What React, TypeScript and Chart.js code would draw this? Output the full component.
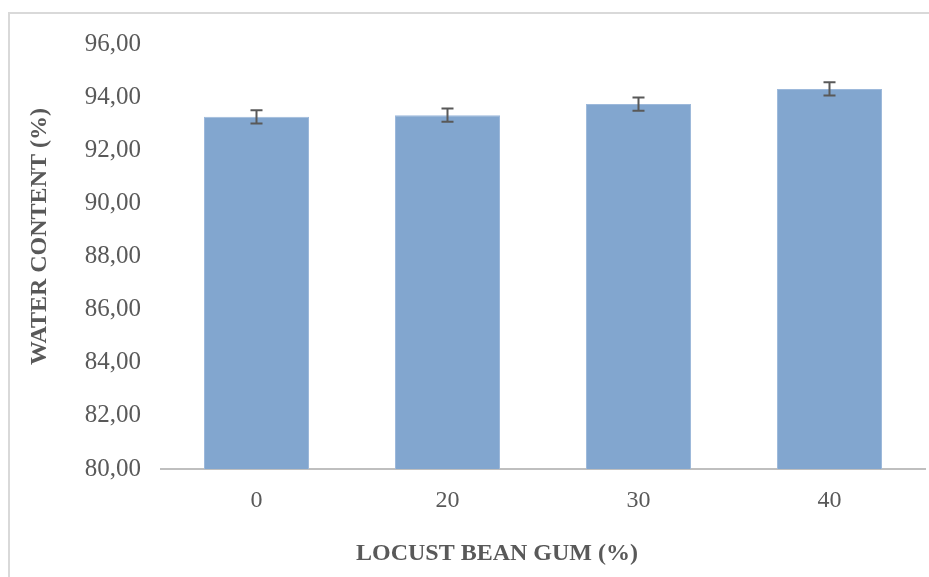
import React, { useEffect, useRef } from "react";
import { Chart, registerables } from "chart.js";

Chart.register(...registerables);

const categories = ["0", "20", "30", "40"];
const waterContent = [93.26, 93.32, 93.74, 94.31];
const errors = [0.25, 0.25, 0.25, 0.25];
const yMin = 80;
const yMax = 96;
const yStep = 2;
const xTitle = "LOCUST BEAN GUM (%)";
const yTitle = "WATER CONTENT (%)";

const TEXT = "#595959";
const FONT = "'Liberation Serif', 'Times New Roman', serif";

const errorBarPlugin = {
  id: "errorBars",
  afterDatasetsDraw(chart: any) {
    const ctx = chart.ctx;
    const meta = chart.getDatasetMeta(0);
    const yScale = chart.scales.y;
    ctx.save();
    ctx.strokeStyle = TEXT;
    ctx.lineWidth = 2;
    meta.data.forEach((el: any, i: number) => {
      const v = waterContent[i];
      const e = errors[i];
      const yTop = yScale.getPixelForValue(v + e);
      const yBot = yScale.getPixelForValue(v - e);
      const x = el.x;
      const cap = 6;
      ctx.beginPath();
      ctx.moveTo(x, yTop);
      ctx.lineTo(x, yBot);
      ctx.moveTo(x - cap, yTop);
      ctx.lineTo(x + cap, yTop);
      ctx.moveTo(x - cap, yBot);
      ctx.lineTo(x + cap, yBot);
      ctx.stroke();
    });
    ctx.restore();
  },
};

const titlesPlugin = {
  id: "axisTitles",
  afterDraw(chart: any) {
    const ctx = chart.ctx;
    const area = chart.chartArea;
    ctx.save();
    ctx.fillStyle = TEXT;
    ctx.font = `bold 24px ${FONT}`;
    ctx.textAlign = "center";
    ctx.textBaseline = "middle";
    ctx.fillText(xTitle, 497, 554);
    ctx.translate(40, (area.top + area.bottom) / 2 - 20);
    ctx.rotate(-Math.PI / 2);
    ctx.fillText(yTitle, 0, 0);
    ctx.restore();
  },
};

export default function App() {
  const ref = useRef<HTMLCanvasElement>(null);

  useEffect(() => {
    if (!ref.current) return;
    const chart = new Chart(ref.current, {
      type: "bar",
      data: {
        labels: categories,
        datasets: [
          {
            data: waterContent,
            backgroundColor: "#82a6cf",
            borderColor: "#9db9db",
            borderWidth: 1,
            categoryPercentage: 1,
            barPercentage: 0.55,
          },
        ],
      },
      options: {
        responsive: false,
        animation: false,
        layout: { padding: { top: 44, right: 4, left: 0, bottom: 0 } },
        plugins: {
          legend: { display: false },
          tooltip: { enabled: false },
          title: { display: false },
        },
        scales: {
          x: {
            grid: { display: false, drawTicks: false },
            border: { display: true, color: "#bfbfbf", width: 2 },
            ticks: {
              color: TEXT,
              font: { family: FONT, size: 24 },
              padding: 17,
            },
            afterFit(scale: any) {
              scale.height = 108;
            },
          },
          y: {
            min: yMin,
            max: yMax,
            grid: { display: false, drawTicks: false },
            border: { display: false },
            ticks: {
              stepSize: yStep,
              color: TEXT,
              font: { family: FONT, size: 25 },
              padding: 20,
              callback: (v: any) => Number(v).toFixed(2).replace(".", ","),
            },
            afterFit(scale: any) {
              scale.width = 161;
            },
          },
        },
      },
      plugins: [errorBarPlugin, titlesPlugin],
    });
    return () => chart.destroy();
  }, []);

  return (
    <div
      style={{
        position: "fixed",
        left: 0,
        top: 0,
        width: 929,
        height: 577,
        overflow: "hidden",
        background: "#fff",
      }}
    >
      <div
        style={{
          position: "absolute",
          left: 8,
          top: 12,
          width: 1000,
          height: 1000,
          border: "2px solid #d9d9d9",
          boxSizing: "border-box",
        }}
      />
      <canvas
        ref={ref}
        width={929}
        height={577}
        style={{ position: "absolute", left: 0, top: 0 }}
      />
    </div>
  );
}
